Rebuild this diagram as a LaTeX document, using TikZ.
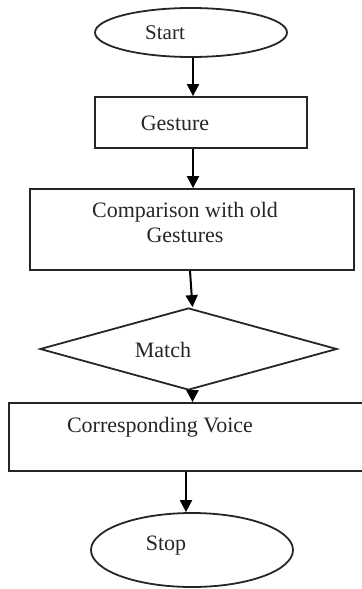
\documentclass[tikz,border=0pt]{standalone}
\usepackage{fontspec}
\setmainfont{Liberation Serif}
\usetikzlibrary{arrows.meta,calc,shapes.geometric}
\tikzset{
	shapeline/.style={draw=black!85, line width=0.9pt, inner sep=0pt},
	flowarrow/.style={line width=1pt, -{Triangle[width=6pt,length=6pt]}},
	txt/.style={text=black!85, font=\fontsize{11}{12.5}\selectfont, inner sep=0pt}
}

\begin{document}
\begin{tikzpicture}[x=0.5pt, y=-0.5pt]
		%%%%% START %%%%%
		\useasboundingbox (0, 0) rectangle (361, 589);
		
		\node[shapeline, ellipse, minimum width=96pt, minimum height=24.5pt] (start) at (191, 32.5) {};
		\node[txt, font=\fontsize{10.5}{12}\selectfont] (starttxt) at (165, 33) {Start};
		
		\node[shapeline, rectangle, minimum width=106pt, minimum height=25.5pt] (gesture) at (201, 122.5) {};
		\node[txt] (gesturetxt) at (175, 123) {Gesture};
		
		\node[shapeline, rectangle, minimum width=162pt, minimum height=40.5pt] (compare) at (192, 229.5) {};
		\node[txt, align=center] (comparetxt) at (185, 222) {Comparison with old\\Gestures};
		
		\node[shapeline, diamond, minimum width=148.5pt, minimum height=41pt] (match) at (188.5, 349) {};
		\node[txt] (matchtxt) at (163, 350) {Match};
		
		\node[shapeline, rectangle, minimum width=179pt, minimum height=34pt] (voice) at (188, 437) {};
		\node[txt] (voicetxt) at (160, 427) {Corresponding Voice};
		
		\node[shapeline, ellipse, minimum width=101pt, minimum height=37pt] (stop) at (192, 550) {};
		\node[txt] (stoptxt) at (166, 546) {Stop};
		
		\draw[flowarrow] ([xshift=1pt]start.south) -- ([xshift=1pt]start.south |- gesture.north);
		\draw[flowarrow] ([xshift=-4pt]gesture.south) -- ([xshift=-4pt]gesture.south |- compare.north);
		\draw[flowarrow] ([xshift=-1pt]compare.south) -- ([xshift=2pt]match.north);
		\draw[flowarrow] ([xshift=2pt]match.south) -- ([xshift=2pt]match.south |- voice.north);
		\draw[flowarrow] ([xshift=-1pt]voice.south) -- ([xshift=-1pt]voice.south |- stop.north);
		%%%%% END %%%%%
	\end{tikzpicture}
\end{document}
